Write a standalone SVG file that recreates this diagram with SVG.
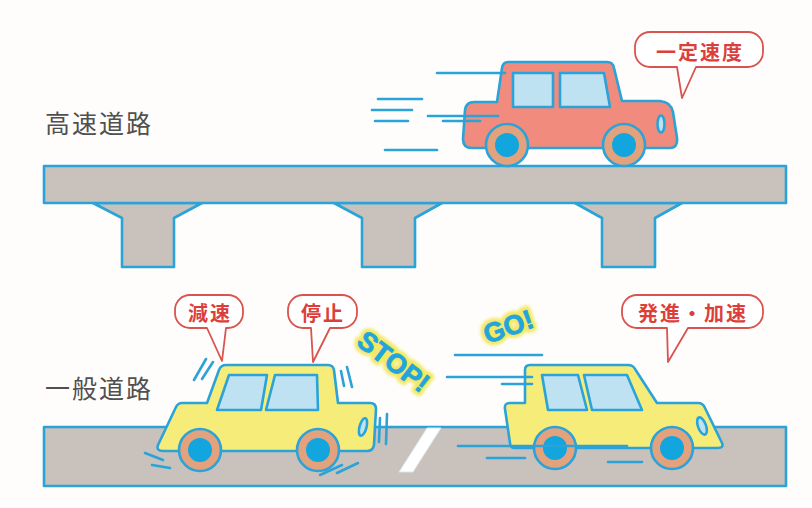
<svg xmlns="http://www.w3.org/2000/svg" width="812" height="508" viewBox="0 0 812 508">
  <defs>
    <style>
      .ol { stroke: #2aa3d9; stroke-width: 2.6; stroke-linejoin: round; stroke-linecap: round; }
      .gray { fill: #c9c1bb; }
      .win { fill: #bfe2f2; }
      .yellow { fill: #f6ec7a; }
      .red { fill: #f08b7e; }
      .ring { fill: #e2a27e; }
      .hub { fill: #13a5dd; stroke: none; }
      .mv { stroke: #2aa3d9; stroke-width: 2.6; stroke-linecap: round; fill: none; }
      .bubble { fill: #ffffff; stroke: #d9534f; stroke-width: 1.8; stroke-linejoin: round; }
      .btxt { font-family: "Noto Sans CJK JP", "Noto Sans", sans-serif; font-weight: 700; font-size: 20px; fill: #dc3f3b; text-anchor: middle; letter-spacing: 2px; }
      .label { font-family: "Noto Sans CJK JP", "Noto Sans", sans-serif; font-weight: 400; font-size: 25px; fill: #505050; letter-spacing: 2px; }
      .shout { font-family: "Liberation Sans", Arial, sans-serif; font-weight: 700; font-size: 27px; text-anchor: middle; }
      .glow { fill: #f3e863; stroke: #f3e863; stroke-width: 8; stroke-linejoin: round; }
      .shoutfg { fill: #22a5dc; stroke: #22a5dc; stroke-width: 0.8; stroke-linejoin: round; }
    </style>
    <filter id="soft" x="-30%" y="-30%" width="160%" height="160%">
      <feGaussianBlur stdDeviation="1.6"/>
    </filter>
    <g id="wheel">
      <circle r="21" class="ring ol"/>
      <circle r="12" class="hub"/>
    </g>
  </defs>

  <rect width="812" height="508" fill="#fefdfb"/>

  <!-- labels -->
  <g id="label-highway">
    <text class="label" x="45" y="133">高速道路</text>
  </g>
  <g id="label-street">
    <text class="label" x="45" y="398">一般道路</text>
  </g>

  <!-- elevated highway -->
  <g id="highway">
    <path class="gray ol" d="M93 203 L202 203 L174 218 L174 267 L122 267 L122 218 Z"/>
    <path class="gray ol" d="M334 203 L442 203 L415 218 L415 267 L362 267 L362 218 Z"/>
    <path class="gray ol" d="M575 203 L682 203 L655 218 L655 267 L602 267 L602 218 Z"/>
    <rect class="gray ol" x="44" y="166" width="742" height="37"/>
  </g>

  <!-- street level road -->
  <g id="road">
    <rect class="gray ol" x="44" y="427" width="742" height="59"/>
    <polygon points="427,428 441,428 413,472 399,472" fill="#ffffff" stroke="#d8e6ee" stroke-width="1"/>
  </g>

  <!-- red car on the highway -->
  <g id="car-red">
    <path class="red ol" d="M508 62 L607 62 Q613 62 614 68 L622 101 L660 101 Q671 102 673 112 L677 138 Q678 148 670 148 L472 148 Q463 148 463 139 L465 110 Q466 102 474 102 L497 102 L502 68 Q503 62 508 62 Z"/>
    <path class="win ol" d="M513 73 L553 73 L553 107 L513 107 Z"/>
    <path class="win ol" d="M560 73 L604 73 L610 107 L560 107 Z"/>
    <ellipse class="win ol" cx="661" cy="124" rx="3.5" ry="8.5"/>
    <use href="#wheel" x="507" y="145"/>
    <use href="#wheel" x="624" y="145"/>
    <g class="mv">
      <line x1="437" y1="73" x2="505" y2="73"/>
      <line x1="378" y1="99" x2="422" y2="99"/>
      <line x1="372" y1="110" x2="412" y2="110"/>
      <line x1="375" y1="121" x2="408" y2="121"/>
      <line x1="428" y1="116" x2="498" y2="116"/>
      <line x1="443" y1="121" x2="480" y2="121"/>
      <line x1="385" y1="150" x2="437" y2="150"/>
    </g>
  </g>

  <!-- yellow car braking -->
  <g id="car-stop">
    <path class="yellow ol" d="M182 403 L207 403 L219 370 Q221 365 226 365 L328 365 Q333 365 334 370 L338 403 L370 403 Q376 403 376 409 L374 445 Q373 451 367 451 L163 451 Q156 451 158 445 L176 407 Q178 403 182 403 Z"/>
    <path class="win ol" d="M229 375 L267 375 L261 410 L217 410 Z"/>
    <path class="win ol" d="M275 375 L317 375 L318 410 L266 410 Z"/>
    <ellipse class="win ol" cx="0" cy="0" rx="3.5" ry="9" transform="translate(363 427) rotate(15)"/>
    <use href="#wheel" x="200" y="450"/>
    <use href="#wheel" x="318" y="450"/>
    <g class="mv">
      <line x1="194" y1="380" x2="206" y2="359"/>
      <line x1="202" y1="379" x2="213" y2="362"/>
      <line x1="341" y1="371" x2="344" y2="386"/>
      <line x1="347" y1="367" x2="352" y2="387"/>
      <line x1="380" y1="418" x2="379" y2="442"/>
      <line x1="387" y1="414" x2="386" y2="444"/>
      <line x1="145" y1="453" x2="163" y2="460"/>
      <line x1="152" y1="465" x2="170" y2="468"/>
      <line x1="320" y1="475" x2="342" y2="465"/>
      <line x1="337" y1="473" x2="358" y2="463"/>
    </g>
  </g>

  <!-- yellow car pulling away -->
  <g id="car-go">
    <path class="yellow ol" d="M530 365 L628 365 Q633 365 635 369 L657 403 L698 403 Q703 403 705 408 L722 443 Q724 448 718 448 L515 448 Q510 448 510 443 L505 409 Q504 403 510 403 L525 403 L525 370 Q525 365 530 365 Z"/>
    <path class="win ol" d="M542 375 L578 375 L587 410 L548 410 Z"/>
    <path class="win ol" d="M584 375 L627 375 L642 410 L592 410 Z"/>
    <ellipse class="win ol" cx="0" cy="0" rx="4" ry="9" transform="translate(702 426) rotate(-20)"/>
    <use href="#wheel" x="555" y="448"/>
    <use href="#wheel" x="672" y="448"/>
    <g class="mv">
      <line x1="455" y1="355" x2="542" y2="355"/>
      <line x1="447" y1="377" x2="532" y2="377"/>
      <line x1="502" y1="384" x2="532" y2="384"/>
      <line x1="458" y1="446" x2="627" y2="446"/>
      <line x1="487" y1="458" x2="525" y2="458"/>
      <line x1="608" y1="462" x2="642" y2="462"/>
    </g>
  </g>

  <!-- shouts -->
  <g id="stop-text" transform="translate(394 361) rotate(37)">
    <text class="shout glow" x="0" y="10" filter="url(#soft)">STOP!</text>
    <text class="shout shoutfg" x="0" y="10">STOP!</text>
  </g>
  <g id="go-text" transform="translate(508 326) rotate(-20)">
    <text class="shout glow" x="0" y="10" filter="url(#soft)">GO!</text>
    <text class="shout shoutfg" x="0" y="10">GO!</text>
  </g>

  <!-- speech bubbles -->
  <g id="bubble-constant">
    <path class="bubble" d="M650 32 H748 A15 15 0 0 1 763 47 V52 A15 15 0 0 1 748 67 H696 L682 98 L677 67 H650 A15 15 0 0 1 635 52 V47 A15 15 0 0 1 650 32 Z"/>
    <text class="btxt" x="700" y="60">一定速度</text>
  </g>
  <g id="bubble-slow">
    <path class="bubble" d="M190 295 H228 A15 15 0 0 1 243 310 V313 A15 15 0 0 1 228 328 H226 L222 361 L207 328 H190 A15 15 0 0 1 175 313 V310 A15 15 0 0 1 190 295 Z"/>
    <text class="btxt" x="210" y="321">減速</text>
  </g>
  <g id="bubble-stop">
    <path class="bubble" d="M303 295 H342 A15 15 0 0 1 357 310 V313 A15 15 0 0 1 342 328 H330 L313 362 L311 328 H303 A15 15 0 0 1 288 313 V310 A15 15 0 0 1 303 295 Z"/>
    <text class="btxt" x="323" y="321">停止</text>
  </g>
  <g id="bubble-start">
    <path class="bubble" d="M637 295 H748 A15 15 0 0 1 763 310 V313 A15 15 0 0 1 748 328 H688 L668 362 L667 328 H637 A15 15 0 0 1 622 313 V310 A15 15 0 0 1 637 295 Z"/>
    <text class="btxt" x="693" y="321">発進・加速</text>
  </g>
</svg>
